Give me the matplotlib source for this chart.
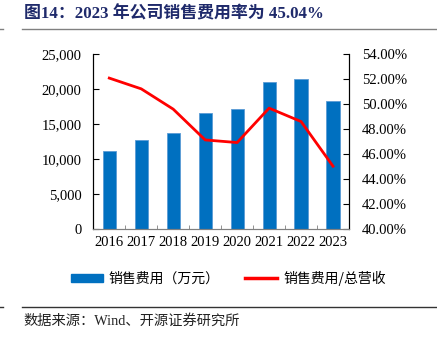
import matplotlib
matplotlib.use('Agg')
import matplotlib.pyplot as plt
from matplotlib.ticker import FuncFormatter, FixedLocator
from matplotlib.lines import Line2D
from matplotlib.patches import Patch

plt.rcParams['font.family'] = ['Liberation Serif', 'Noto Sans CJK SC', 'DejaVu Sans']

# Data
years = ['2016', '2017', '2018', '2019', '2020', '2021', '2022', '2023']
sales_expense = [11230, 12750, 13750, 16610, 17140, 21040, 21470, 18370]  # 万元
expense_ratio = [52.08, 51.22, 49.60, 47.14, 46.93, 49.68, 48.61, 45.04]  # %

title_text = '图14：2023 年公司销售费用率为 45.04%'
source_text = '数据来源：Wind、开源证券研究所'
bar_label = '销售费用（万元）'
line_label = '销售费用/总营收'

bar_color = '#0070C0'
line_color = '#FF0000'
navy = '#1F2A6B'
cjk = ['Noto Sans CJK SC', 'DejaVu Sans']

fig = plt.figure(figsize=(4.37, 3.40), dpi=100)
ax = fig.add_axes([0.2135, 0.3256, 0.5851, 0.5154])
ax2 = ax.twinx()

x = list(range(len(years)))
ax.bar(x, sales_expense, width=0.41, color=bar_color, edgecolor='#5B9BD5', linewidth=0.6, zorder=2)
ax2.plot(x, expense_ratio, color=line_color, linewidth=2.0, zorder=3)

ax.set_xlim(-0.5, 7.5)
ax.set_ylim(0, 25000)
ax.set_yticks(range(0, 25001, 5000))
ax.yaxis.set_major_formatter(FuncFormatter(lambda v, p: '{:,.0f}'.format(v)))
ax2.set_ylim(40, 54)
ax2.set_yticks(range(40, 55, 2))
ax2.yaxis.set_major_formatter(FuncFormatter(lambda v, p: '{:.2f}%'.format(v)))

ax.set_xticks(x)
ax.set_xticklabels(years)
ax.xaxis.set_minor_locator(FixedLocator([i + 0.5 for i in range(-1, 8)]))
ax.tick_params(axis='x', which='major', length=0, pad=5, labelsize=10.5)
ax.tick_params(axis='x', which='minor', direction='in', length=3, color='#808080')
ax.tick_params(axis='y', direction='in', length=4, labelsize=10.5, pad=8.5)
ax2.tick_params(axis='y', direction='in', length=4, labelsize=10.5, pad=9.5)

for a in (ax, ax2):
    a.spines['top'].set_visible(False)
    a.spines['bottom'].set_color('#808080')
    a.spines['left'].set_color('#000000')
    a.spines['right'].set_color('#000000')
    a.spines['left'].set_linewidth(0.8)
    a.spines['right'].set_linewidth(0.8)

# title and rules
fig.text(0.055, 0.958, title_text, color=navy, fontsize=12.2, fontweight='bold',
         family=['Liberation Serif', 'Noto Sans CJK SC'], va='center', ha='left')
fig.add_artist(Line2D([0.05, 1.0], [0.915, 0.915], color='#808080', linewidth=1.0))
fig.add_artist(Line2D([0.0, 0.007], [0.915, 0.915], color='#808080', linewidth=1.0))
fig.add_artist(Line2D([0.05, 1.0], [0.098, 0.098], color='#333333', linewidth=1.0))
fig.add_artist(Line2D([0.0, 0.007], [0.098, 0.098], color='#333333', linewidth=1.0))
fig.text(0.053, 0.057, source_text, fontsize=10.3, family=['Liberation Serif', 'Noto Sans CJK SC'],
         va='center', ha='left', color='#222222')

# legend
handles = [Patch(facecolor=bar_color, edgecolor=bar_color),
           Line2D([0], [0], color=line_color, linewidth=2.5)]
leg = fig.legend(handles, [bar_label, line_label], loc='center', bbox_to_anchor=(0.522, 0.182),
                 ncol=2, frameon=False, prop={'family': cjk, 'size': 10},
                 handlelength=2.3, handleheight=0.5, columnspacing=1.8, handletextpad=0.45)

fig.savefig('out.png', dpi=100)
